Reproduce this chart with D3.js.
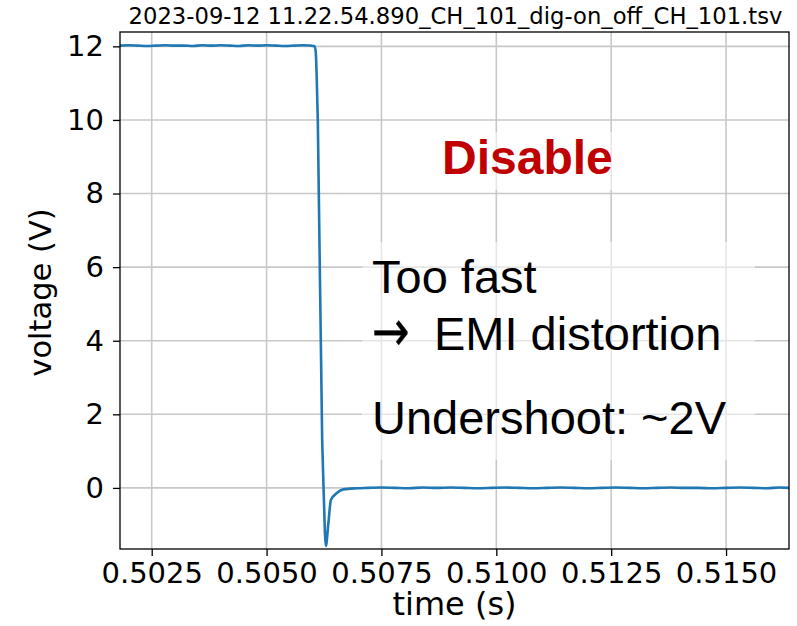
<!DOCTYPE html>
<html>
<head>
<meta charset="utf-8">
<script src="https://cdn.jsdelivr.net/npm/d3@7/dist/d3.min.js"></script>
<style>
  html, body { margin: 0; padding: 0; background: #fff; }
  svg { display: block; }
</style>
</head>
<body>
<svg id="chart" width="797" height="626"></svg>
<script>
// ---- data ----
const timeS = [
  0.50181, 0.50200, 0.50220, 0.50240, 0.50260, 0.50280, 0.50300, 0.50320, 0.50340, 0.50360,
  0.50380, 0.50400, 0.50420, 0.50440, 0.50460, 0.50480, 0.50500, 0.50520, 0.50540, 0.50560,
  0.50580, 0.50595, 0.50604, 0.50607, 0.50609, 0.506115, 0.50621, 0.50624, 0.50629, 0.506345,
  0.50640, 0.50653, 0.50667, 0.50696, 0.50720, 0.50750, 0.50780, 0.50810, 0.50840, 0.50870,
  0.50900, 0.50930, 0.50960, 0.50990, 0.51020, 0.51050, 0.51080, 0.51110, 0.51140, 0.51170,
  0.51200, 0.51230, 0.51260, 0.51290, 0.51320, 0.51350, 0.51380, 0.51410, 0.51440, 0.51470,
  0.51500, 0.51530, 0.51560, 0.51590, 0.51615, 0.51637
];
const voltageV = [
  12.02, 12.03, 12.02, 12.01, 12.02, 12.03, 12.02, 12.02, 12.01, 12.03,
  12.02, 12.03, 12.02, 12.01, 12.03, 12.02, 12.03, 12.02, 12.01, 12.02,
  12.03, 12.02, 12.01, 11.85, 11.20, 10.00, 1.30, 0.00, -1.58, -0.96,
  -0.33, -0.14, -0.04, -0.01, 0.00, 0.01, 0.00, -0.01, 0.01, 0.00,
  0.01, 0.00, -0.01, 0.00, 0.01, 0.00, -0.01, 0.00, 0.01, 0.00,
  -0.01, 0.00, 0.01, 0.00, -0.01, 0.00, 0.01, 0.00, 0.00, -0.01,
  0.00, 0.01, 0.00, -0.01, 0.01, 0.00
];
const xTicks = [0.5025, 0.5050, 0.5075, 0.5100, 0.5125, 0.5150];
const yTicks = [0, 2, 4, 6, 8, 10, 12];
const xDomain = [0.50181, 0.51637];
const yDomain = [-1.66, 12.39];
const titleText = "2023-09-12 11.22.54.890_CH_101_dig-on_off_CH_101.tsv";
const xLabel = "time (s)";
const yLabel = "voltage (V)";
const noteTitle = "Disable";
const noteLines = ["Too fast", "EMI distortion", "Undershoot: ~2V"];
const noteArrow = "\u2192";

// ---- layout ----
const svg = d3.select("#chart");
const L = 120, R = 789, T = 32, B = 549;
const x = d3.scaleLinear().domain(xDomain).range([L, R]);
const y = d3.scaleLinear().domain(yDomain).range([B, T]);
const mplFont = "'DejaVu Sans', sans-serif";
const pptFont = "'Liberation Sans', Arial, sans-serif";

// grid
const grid = svg.append("g");
grid.selectAll("line.gx").data(xTicks).enter().append("line")
  .attr("x1", d => x(d)).attr("x2", d => x(d)).attr("y1", T).attr("y2", B)
  .attr("stroke", "#c8c8c8").attr("stroke-width", 1.6);
grid.selectAll("line.gy").data(yTicks).enter().append("line")
  .attr("y1", d => y(d)).attr("y2", d => y(d)).attr("x1", L).attr("x2", R)
  .attr("stroke", "#c8c8c8").attr("stroke-width", 1.6);

// data line
const line = d3.line().x((d, i) => x(timeS[i])).y(d => y(d)).curve(d3.curveMonotoneX);
svg.append("path").datum(voltageV)
  .attr("d", line)
  .attr("fill", "none").attr("stroke", "#1f77b4").attr("stroke-width", 2.6)
  .attr("stroke-linejoin", "round");

// semi-transparent text boxes (over grid and line)
svg.append("rect").attr("x", 428).attr("y", 132).attr("width", 196).attr("height", 58)
  .attr("fill", "#fff").attr("opacity", 0.55);
svg.append("rect").attr("x", 362).attr("y", 242).attr("width", 393).attr("height", 218)
  .attr("fill", "#fff").attr("opacity", 0.55);

// axes
const xAxis = d3.axisBottom(x).tickValues(xTicks).tickFormat(d3.format(".4f")).tickSizeOuter(0).tickSize(7).tickPadding(6);
const yAxis = d3.axisLeft(y).tickValues(yTicks).tickFormat(d3.format("d")).tickSizeOuter(0).tickSize(7).tickPadding(9);
const gx = svg.append("g").attr("transform", `translate(0,${B})`).call(xAxis);
const gy = svg.append("g").attr("transform", `translate(${L},0)`).call(yAxis);
[gx, gy].forEach(g => {
  g.select(".domain").remove();
  g.selectAll(".tick line").attr("stroke", "#000").attr("stroke-width", 1.3);
  g.selectAll(".tick text").attr("fill", "#000").style("font-family", mplFont).style("font-size", "29px");
});

// spines
svg.append("rect").attr("x", L).attr("y", T).attr("width", R - L).attr("height", B - T)
  .attr("fill", "none").attr("stroke", "#000").attr("stroke-width", 1.3);

// title & labels
svg.append("text").attr("x", (L + R) / 2 + 1).attr("y", 24).attr("text-anchor", "middle")
  .style("font-family", mplFont).style("font-size", "22.7px").attr("fill", "#000").text(titleText);
svg.append("text").attr("x", (L + R) / 2).attr("y", 615).attr("text-anchor", "middle")
  .style("font-family", mplFont).style("font-size", "32px").attr("fill", "#000").text(xLabel);
svg.append("text").attr("transform", `translate(51,${(T + B) / 2 + 2}) rotate(-90)`).attr("text-anchor", "middle")
  .style("font-family", mplFont).style("font-size", "30.5px").attr("fill", "#000").text(yLabel);

// annotations
svg.append("text").attr("x", 442).attr("y", 173.5).style("font-family", pptFont)
  .style("font-size", "48px").style("font-weight", "bold").attr("fill", "#c00000").text(noteTitle);
const noteY = [292.5, 350, 433.5];
const noteX = [372, 434, 372];
svg.selectAll("text.note").data(noteLines).enter().append("text")
  .attr("class", "note")
  .attr("x", (d, i) => noteX[i]).attr("y", (d, i) => noteY[i])
  .style("font-family", pptFont).style("font-size", "47px").attr("fill", "#000")
  .text(d => d);
svg.append("text").attr("transform", `translate(372,${noteY[1] + 1}) scale(0.98,1.25)`)
  .style("font-family", mplFont).style("font-size", "46px").attr("fill", "#000")
  .attr("stroke", "#000").attr("stroke-width", 0.3).text(noteArrow);
</script>
</body>
</html>
